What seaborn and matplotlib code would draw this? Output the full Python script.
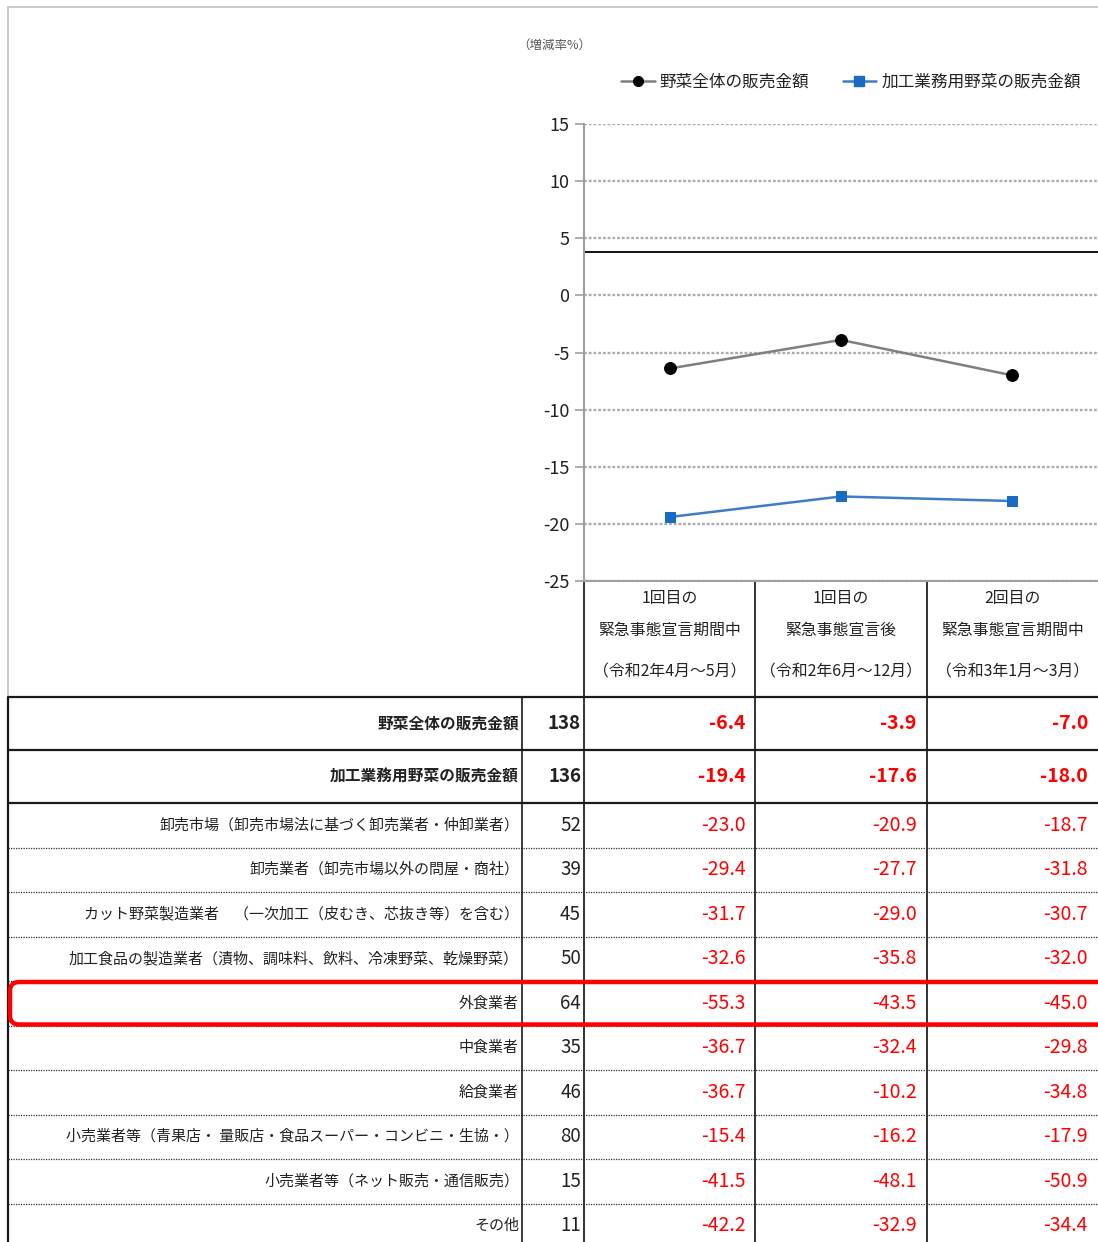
import numpy as np
import pandas as pd
import matplotlib
matplotlib.use("Agg")
import matplotlib.pyplot as plt
import matplotlib.transforms as mtransforms
from matplotlib.patches import FancyBboxPatch
from matplotlib.lines import Line2D
import seaborn as sns

# ---------------- data ----------------
period_keys = ["P1", "P2", "P3"]
period_line1 = ["1回目の", "1回目の", "2回目の"]
period_line2 = ["緊急事態宣言期間中", "緊急事態宣言後", "緊急事態宣言期間中"]
period_line3 = ["（令和2年4月～5月）", "（令和2年6月～12月）", "（令和3年1月～3月）"]

series_names = ["野菜全体の販売金額", "加工業務用野菜の販売金額"]
total_sales = [-6.4, -3.9, -7.0]
processing_sales = [-19.4, -17.6, -18.0]

y_ticks = [15, 10, 5, 0, -5, -10, -15, -20, -25]
unit_label = "（増減率%）"

row_labels = [
    "野菜全体の販売金額",
    "加工業務用野菜の販売金額",
    "卸売市場（卸売市場法に基づく卸売業者・仲卸業者）",
    "卸売業者（卸売市場以外の問屋・商社）",
    "カット野菜製造業者　（一次加工（皮むき、芯抜き等）を含む）",
    "加工食品の製造業者（漬物、調味料、飲料、冷凍野菜、乾燥野菜）",
    "外食業者",
    "中食業者",
    "給食業者",
    "小売業者等（青果店・ 量販店・食品スーパー・コンビニ・生協・）",
    "小売業者等（ネット販売・通信販売）",
    "その他",
]
row_counts = [138, 136, 52, 39, 45, 50, 64, 35, 46, 80, 15, 11]
rate_p1 = [-6.4, -19.4, -23.0, -29.4, -31.7, -32.6, -55.3, -36.7, -36.7, -15.4, -41.5, -42.2]
rate_p2 = [-3.9, -17.6, -20.9, -27.7, -29.0, -35.8, -43.5, -32.4, -10.2, -16.2, -48.1, -32.9]
rate_p3 = [-7.0, -18.0, -18.7, -31.8, -30.7, -32.0, -45.0, -29.8, -34.8, -17.9, -50.9, -34.4]
highlight_row = "外食業者"
frame_edge_value = 3.8   # black plot-area edge line seen in the original

# ---------------- style ----------------
sns.set_theme(style="white")
plt.rcParams["font.family"] = ["Noto Sans CJK JP", "DejaVu Sans"]
plt.rcParams["axes.unicode_minus"] = False

W, H = 1098, 1242
fig = plt.figure(figsize=(W / 100, H / 100), dpi=100)
fig.patch.set_facecolor("white")

bg = fig.add_axes([0, 0, 1, 1], zorder=0)
bg.set_xlim(0, W)
bg.set_ylim(H, 0)
bg.axis("off")

ax_left, ax_top, ax_bottom = 584, 124, 581
ax = fig.add_axes([ax_left / W, 1 - ax_bottom / H, (W - ax_left) / W, (ax_bottom - ax_top) / H], zorder=1)
ax.set_facecolor("white")

df = pd.DataFrame({
    "period": period_keys * 2,
    "value": total_sales + processing_sales,
    "series": [series_names[0]] * 3 + [series_names[1]] * 3,
})
line_colors = {series_names[0]: "#7f7f7f", series_names[1]: "#3f7cc8"}
marker_colors = ["#000000", "#1a6bc4"]
sns.lineplot(data=df, x="period", y="value", hue="series", style="series",
             markers={series_names[0]: "o", series_names[1]: "s"}, dashes=False,
             palette=line_colors, linewidth=1.8, ax=ax, legend=False, sort=False)
msizes = [8.5, 7.5]
for ln, mc, ms in zip(ax.lines[:2], marker_colors, msizes):
    ln.set_markerfacecolor(mc)
    ln.set_markeredgecolor(mc)
    ln.set_markersize(ms)

ax.axhline(frame_edge_value, color="black", lw=1.3, zorder=1)

ax.set_xlim(-0.5, 2.5)
ax.set_ylim(-25, 15)
ax.set_yticks(y_ticks)
ax.set_xticks([])
ax.set_xlabel("")
ax.set_ylabel("")
ax.yaxis.grid(True, color="#adadad", linestyle=(0, (1.2, 0.8)), linewidth=1.7)
ax.set_axisbelow(True)
ax.tick_params(axis="y", length=6.5, width=1.4, color="#adadad", pad=4,
               labelsize=13, labelcolor="#222222", left=True)
for s in ["top", "right"]:
    ax.spines[s].set_visible(False)
for s in ["left", "bottom"]:
    ax.spines[s].set_color("#a0a0a0")
    ax.spines[s].set_linewidth(1.5)

# legend
handles = [
    Line2D([], [], color=line_colors[series_names[0]], lw=1.8, marker="o",
           markerfacecolor=marker_colors[0], markeredgecolor=marker_colors[0], markersize=7),
    Line2D([], [], color=line_colors[series_names[1]], lw=1.8, marker="s",
           markerfacecolor=marker_colors[1], markeredgecolor=marker_colors[1], markersize=6.5),
]
fig.legend(handles, series_names, loc="center", bbox_to_anchor=(851 / W, 1 - 82 / H),
           ncol=2, frameon=False, fontsize=12, handlelength=2.0, handletextpad=0.3,
           columnspacing=2.0, labelcolor="#222222")

bg.text(517, 45, unit_label, fontsize=9, color="#555555", ha="left", va="center")

# outer light-gray frame
table_top = 697
bg.plot([8, 8], [7, table_top], color="#c6c6c6", lw=1.3)
bg.plot([8, W], [7, 7], color="#c6c6c6", lw=1.3)

# blended transform: x in data units of the chart, y in pixels
trans = mtransforms.blended_transform_factory(ax.transData, bg.transData)

# header labels under the chart
for i in range(len(period_keys)):
    bg.text(i, 599, period_line1[i], transform=trans, ha="center", va="center", fontsize=11.4, color="#222222")
    bg.text(i, 630, period_line2[i], transform=trans, ha="center", va="center", fontsize=11.4, color="#222222")
    bg.text(i, 672, period_line3[i], transform=trans, ha="center", va="center", fontsize=11.4, color="#222222")

# column boundaries
for b in [-0.5, 0.5, 1.5]:
    bg.plot([b, b], [ax_bottom, H], transform=trans, color="#222222", lw=1.3, clip_on=False)

# table rows
bold_h, row_h = 53, 44.5
tops = []
y = table_top
for j in range(len(row_labels)):
    tops.append(y)
    y += bold_h if j < 2 else row_h
bottoms = tops[1:] + [y]

for j, (lab, cnt) in enumerate(zip(row_labels, row_counts)):
    yc = (tops[j] + bottoms[j]) / 2
    bold = j < 2
    bg.text(519, yc, lab, ha="right", va="center", fontsize=11.3 if bold else 10.8,
            fontweight="bold" if bold else "normal", color="#222222")
    bg.text(581, yc, str(cnt), ha="right", va="center", fontsize=13.5,
            fontweight="bold" if bold else "normal", color="#222222")
    for i, vals in enumerate([rate_p1, rate_p2, rate_p3]):
        off = mtransforms.offset_copy(trans, fig=fig, x=-10, y=0, units="dots")
        bg.text(i + 0.5, yc, f"{vals[j]:.1f}", transform=off, ha="right", va="center",
                fontsize=14, fontweight="bold" if bold else "normal", color="#ff0000")

# horizontal separators
for j, t in enumerate(tops):
    if j <= 2:
        bg.plot([8, W], [t, t], color="#1a1a1a", lw=1.6, solid_capstyle="butt")
    else:
        bg.plot([8, W], [t, t], color="#333333", lw=0.9, linestyle=(0, (1, 1)))

# vertical table lines
bg.plot([8, 8], [table_top, H], color="#1a1a1a", lw=1.6)
bg.plot([522, 522], [table_top, H], color="#1a1a1a", lw=1.2)

# highlight box
hj = row_labels.index(highlight_row)
box = FancyBboxPatch((10, tops[hj] + 1), W + 20, bottoms[hj] - tops[hj] - 2,
                     boxstyle="round,pad=0,rounding_size=9", fill=False,
                     edgecolor="#ff0000", lw=3.2, zorder=5, clip_on=False)
bg.add_patch(box)

fig.savefig("out.png", dpi=100)
